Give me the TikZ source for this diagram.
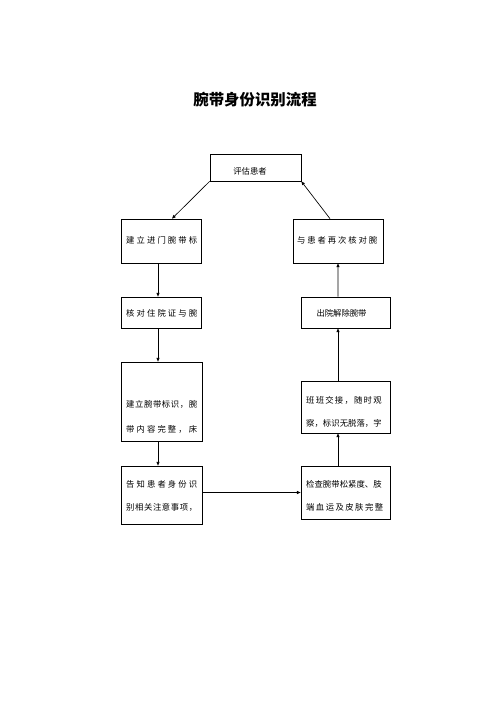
\documentclass[tikz,border=0pt]{standalone}
\usepackage{fontspec}
\newfontfamily\cjk{Noto Sans CJK SC}
\usetikzlibrary{arrows.meta}
\makeatletter
\newcommand\cjkspread[2]{\makebox[#1][s]{\@tfor\cjk@ch:=#2\do{\cjk@ch\hfil}\unskip}}
\makeatother

\begin{document}
\begin{tikzpicture}[x=1.2pt,y=-1.2pt,>={Triangle[length=4.5pt,width=3.6pt]}]
    % styles
    \tikzset{flowbox/.style={draw,line width=0.8pt,inner sep=0pt},
             rowtext/.style={font=\cjk\fontsize{10}{12}\selectfont,anchor=west,inner sep=0pt},
             title/.style={font=\cjk\bfseries\fontsize{18.5}{20}\selectfont,inner sep=0pt},
             link/.style={->,line width=0.8pt}}
    \useasboundingbox (0,0) rectangle (496,702);

    % title
    \node[title] (title) at (255,100) {腕带身份识别流程};

    % boxes
    \node[flowbox,minimum width=109.2pt,minimum height=32.4pt] (assess)    at (255.5,167.5) {};
    \node[flowbox,minimum width=96pt,minimum height=52.8pt]    (mkband)    at (161,241)     {};
    \node[flowbox,minimum width=108pt,minimum height=52.8pt]   (recheck)   at (338,241)     {};
    \node[flowbox,minimum width=96pt,minimum height=37.2pt]    (verify)    at (161,312.5)   {};
    \node[flowbox,minimum width=106.8pt,minimum height=37.2pt] (discharge) at (345.5,312.5) {};
    \node[flowbox,minimum width=97.2pt,minimum height=94.8pt]  (setband)   at (161.5,401.5) {};
    \node[flowbox,minimum width=106.8pt,minimum height=62.4pt] (handover)  at (345.5,407)   {};
    \node[flowbox,minimum width=97.2pt,minimum height=69.6pt]  (inform)    at (161.5,495)   {};
    \node[flowbox,minimum width=106.8pt,minimum height=63.6pt] (check)     at (345.5,492.5) {};

    % box texts
    \node[rowtext,anchor=center] (assessT) at (250,171) {评估患者};
    \node[rowtext] (mkbandA)    at (126,240) {\cjkspread{85.2pt}{建立进门腕带标}};
    \node[rowtext] (recheckA)   at (297,240) {\cjkspread{96pt}{与患者再次核对腕}};
    \node[rowtext] (verifyA)    at (126,313) {\cjkspread{85.2pt}{核对住院证与腕}};
    \node[rowtext,anchor=center] (dischargeA) at (341.5,313) {出院解除腕带};
    \node[rowtext] (setbandA)   at (126,404) {\cjkspread{85.2pt}{建立腕带标识，腕}};
    \node[rowtext] (setbandB)   at (126,429) {\cjkspread{85.2pt}{带内容完整，床}};
    \node[rowtext] (handoverA)  at (306,400) {\cjkspread{90.6pt}{班班交接，随时观}};
    \node[rowtext] (handoverB)  at (306,423) {\cjkspread{90.6pt}{察，标识无脱落，字}};
    \node[rowtext] (informA)    at (126,484) {\cjkspread{85.2pt}{告知患者身份识}};
    \node[rowtext] (informB)    at (126,507) {\cjkspread{85.2pt}{别相关注意事项，}};
    \node[rowtext] (checkA)     at (306,484) {\cjkspread{90.6pt}{检查腕带松紧度、肢}};
    \node[rowtext] (checkB)     at (306,507) {\cjkspread{92.4pt}{端血运及皮肤完整}};

    % arrows
    \draw[link] (assess.south west) -- ([xshift=13.2pt]mkband.north);
    \draw[link] ([xshift=-9.6pt]recheck.north) -- (assess.south east);
    \draw[link] ([xshift=-3.6pt]mkband.south) -- ([xshift=-3.6pt]verify.north);
    \draw[link] ([xshift=-3.6pt]verify.south) -- ([xshift=-4.2pt]setband.north);
    \draw[link] ([xshift=-4.2pt]setband.south) -- ([xshift=-4.2pt]inform.north);
    \draw[link,line width=1.2pt] (check.west -| inform.east) -- (check.west);
    \draw[link] ([xshift=-9pt]check.north) -- ([xshift=-9pt]handover.south);
    \draw[link] ([xshift=-9pt]handover.north) -- ([xshift=-9pt]discharge.south);
    \draw[link] ([xshift=-9pt]discharge.north) -- (recheck.south);
\end{tikzpicture}
\end{document}
